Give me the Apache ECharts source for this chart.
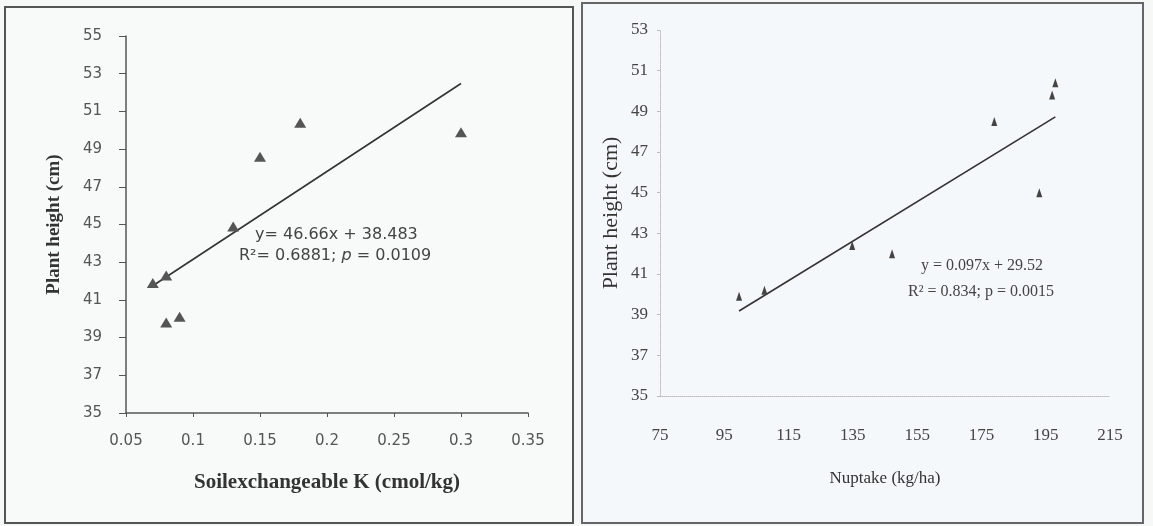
<!DOCTYPE html>
<html>
<head>
<meta charset="utf-8">
<script src="https://cdn.jsdelivr.net/npm/echarts@6/dist/echarts.min.js"></script>
<style>
html,body{margin:0;padding:0;background:#f6f8f8;}
#chart{width:1153px;height:526px;}
</style>
</head>
<body>
<div id="chart"></div>
<script>
// Left panel: soil exchangeable K vs plant height
var kX = [0.07, 0.08, 0.08, 0.09, 0.13, 0.15, 0.18, 0.30];
var kY = [41.9, 42.3, 39.8, 40.1, 44.9, 48.6, 50.4, 49.9];
var kSlope = 46.66, kIntercept = 38.483;
var kXTicks = [0.05, 0.1, 0.15, 0.2, 0.25, 0.3, 0.35];
var kYTicks = [35, 37, 39, 41, 43, 45, 47, 49, 51, 53, 55];

// Right panel: N uptake vs plant height
var nX = [99.6, 107.5, 134.8, 147.2, 179, 193, 197, 198];
var nY = [39.9, 40.2, 42.4, 42.0, 48.5, 45.0, 49.8, 50.4];
var nSlope = 0.097, nIntercept = 29.52;
var nXTicks = [75, 95, 115, 135, 155, 175, 195, 215];
var nYTicks = [35, 37, 39, 41, 43, 45, 47, 49, 51, 53];

function pairs(xs, ys){ return xs.map(function(x,i){ return [x, ys[i]]; }); }
function trend(xs, a, b){
  var lo = Math.min.apply(null, xs), hi = Math.max.apply(null, xs);
  return [[lo, a*lo+b], [hi, a*hi+b]];
}

var serif = '"Liberation Serif", "DejaVu Serif", serif';
var sans = '"DejaVu Sans", sans-serif';
var chart = echarts.init(document.getElementById('chart'));
chart.setOption({
  backgroundColor: '#f6f8f8',
  animation: false,
  graphic: [
    {type:'rect', shape:{x:5, y:7, width:568, height:516}, style:{fill:'#f8f9f9', stroke:'#555', lineWidth:2}, z:-10},
    {type:'rect', shape:{x:582, y:3, width:561, height:520}, style:{fill:'#f4f8fa', stroke:'#666', lineWidth:2}, z:-10},
    {type:'text', left:255, top:227, z:10, style:{text:'y= 46.66x + 38.483', font:'16px ' + sans, fill:'#444'}},
    {type:'text', left:239, top:248, z:10, style:{text:'R²= 0.6881; {i|p} = 0.0109', font:'16px ' + sans, fill:'#444', rich:{i:{fontStyle:'italic', fontFamily:'DejaVu Sans', fontSize:16, fill:'#444'}}}},
    {type:'text', left:921, top:258, z:10, style:{text:'y = 0.097x + 29.52', font:'16px ' + serif, fill:'#444'}},
    {type:'text', left:908, top:284, z:10, style:{text:'R² = 0.834; p = 0.0015', font:'16px ' + serif, fill:'#444'}}
  ],
  grid: [
    {left:126, right:1153-528, top:36, bottom:526-413},
    {left:660, right:1153-1110, top:30, bottom:526-396}
  ],
  xAxis: [
    {gridIndex:0, type:'value', min:kXTicks[0], max:kXTicks[kXTicks.length-1], interval:0.05,
     splitLine:{show:false},
     axisLine:{lineStyle:{color:'#555', width:1.5}},
     axisTick:{show:true, inside:false, length:4, lineStyle:{color:'#555'}},
     axisLabel:{margin:21, color:'#555', fontFamily:sans, fontSize:15, formatter:function(v){return String(+v.toFixed(2));}},
     name:'Soilexchangeable K (cmol/kg)', nameLocation:'middle', nameGap:59,
     nameTextStyle:{fontFamily:serif, fontSize:21, fontWeight:'bold', color:'#333'}},
    {gridIndex:1, type:'value', min:nXTicks[0], max:nXTicks[nXTicks.length-1], interval:20,
     splitLine:{show:false},
     axisLine:{lineStyle:{color:'#bbb', width:1, type:'dotted'}},
     axisTick:{show:false},
     axisLabel:{margin:31, color:'#444', fontFamily:serif, fontSize:17},
     name:'Nuptake (kg/ha)', nameLocation:'middle', nameGap:74,
     nameTextStyle:{fontFamily:serif, fontSize:17, color:'#333'}}
  ],
  yAxis: [
    {gridIndex:0, type:'value', min:kYTicks[0], max:kYTicks[kYTicks.length-1], interval:2,
     splitLine:{show:false},
     axisLine:{show:true, lineStyle:{color:'#555', width:1.5}},
     axisTick:{show:true, length:7, lineStyle:{color:'#555'}},
     axisLabel:{margin:24, color:'#555', fontFamily:sans, fontSize:15},
     name:'Plant height (cm)', nameLocation:'middle', nameGap:62, nameRotate:90,
     nameTextStyle:{fontFamily:serif, fontSize:19, fontWeight:'bold', color:'#333'}},
    {gridIndex:1, type:'value', min:nYTicks[0], max:nYTicks[nYTicks.length-1], interval:2,
     splitLine:{show:false},
     axisLine:{show:true, lineStyle:{color:'#bbb', width:1, type:'dotted'}},
     axisTick:{show:true, length:3, lineStyle:{color:'#bbb'}},
     axisLabel:{margin:12, color:'#444', fontFamily:serif, fontSize:17},
     name:'Plant height (cm)', nameLocation:'middle', nameGap:38, nameRotate:90,
     nameTextStyle:{fontFamily:serif, fontSize:22, color:'#333'}}
  ],
  series: [
    {type:'line', xAxisIndex:0, yAxisIndex:0, data:trend(kX, kSlope, kIntercept), symbol:'none',
     lineStyle:{color:'#333', width:1.6}, z:2},
    {type:'scatter', xAxisIndex:0, yAxisIndex:0, data:pairs(kX, kY), symbol:'triangle', symbolSize:[12,10],
     itemStyle:{color:'#555', opacity:1}, z:3},
    {type:'line', xAxisIndex:1, yAxisIndex:1, data:trend(nX, nSlope, nIntercept), symbol:'none',
     lineStyle:{color:'#333', width:1.6}, z:2},
    {type:'scatter', xAxisIndex:1, yAxisIndex:1, data:pairs(nX, nY), symbol:'triangle', symbolSize:[6,9],
     itemStyle:{color:'#444', opacity:1}, z:3}
  ]
});
</script>
</body>
</html>
